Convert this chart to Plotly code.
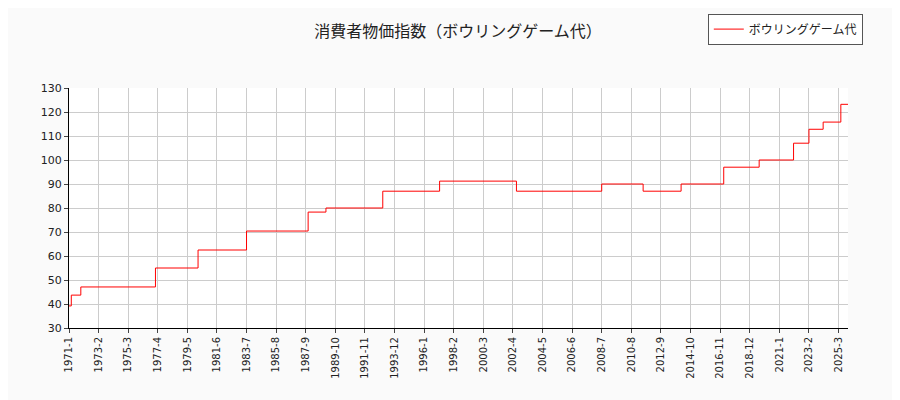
import plotly.graph_objects as go

change_months = ["1971-01", "1971-03", "1971-11", "1977-02", "1980-02", "1983-07", "1987-11",
                 "1989-02", "1993-02", "1997-02", "2002-07", "2008-07", "2011-06", "2014-02",
                 "2017-02", "2019-08", "2022-01", "2023-02", "2024-02", "2025-05", "2025-11"]
values = [39.2, 43.7, 47.1, 55.0, 62.5, 70.4, 78.3, 80.0, 87.0, 91.2, 87.0, 90.0, 87.0, 90.0,
          97.0, 100.0, 107.0, 112.8, 115.8, 123.2, 123.2]
tick_labels = ["1971-1", "1973-2", "1975-3", "1977-4", "1979-5", "1981-6", "1983-7", "1985-8",
               "1987-9", "1989-10", "1991-11", "1993-12", "1996-1", "1998-2", "2000-3", "2002-4",
               "2004-5", "2006-6", "2008-7", "2010-8", "2012-9", "2014-10", "2016-11", "2018-12",
               "2021-1", "2023-2", "2025-3"]
tick_vals = ["%s-%02d-01" % (t.split("-")[0], int(t.split("-")[1])) for t in tick_labels]
x = [m + "-01" for m in change_months]

fig = go.Figure(go.Scatter(x=x, y=values, mode="lines", line=dict(color="red", width=1, shape="hv"),
                           name="ボウリングゲーム代"))
fig.update_layout(
    width=900, height=400, paper_bgcolor="#fafafa", plot_bgcolor="white",
    margin=dict(l=61, r=60, t=80, b=80, autoexpand=False),
    font=dict(family="DejaVu Sans, Noto Sans CJK JP", size=11, color="#222"),
    title=dict(text="消費者物価指数（ボウリングゲーム代）", x=0.5, xanchor="center", y=0.955,
               font=dict(family="Noto Sans CJK JP", size=16)),
    showlegend=True,
    legend=dict(x=1.019, y=1.31, xanchor="right", yanchor="top", bgcolor="white", bordercolor="#555",
                borderwidth=1, font=dict(family="Noto Sans CJK JP", size=12)),
    xaxis=dict(type="date", range=["1971-01-01", "2025-11-01"], tickvals=tick_vals, ticktext=tick_labels,
               tickangle=-90, showgrid=True, gridcolor="#cccccc", showline=True, linecolor="black",
               ticks="outside", ticklen=4, tickfont=dict(size=10), automargin=False),
    yaxis=dict(range=[30, 130], dtick=10, showgrid=True, gridcolor="#cccccc", showline=True,
               linecolor="black", ticks="outside", ticklen=4, tickfont=dict(size=11), automargin=False),
)
fig.write_html("out.html")
